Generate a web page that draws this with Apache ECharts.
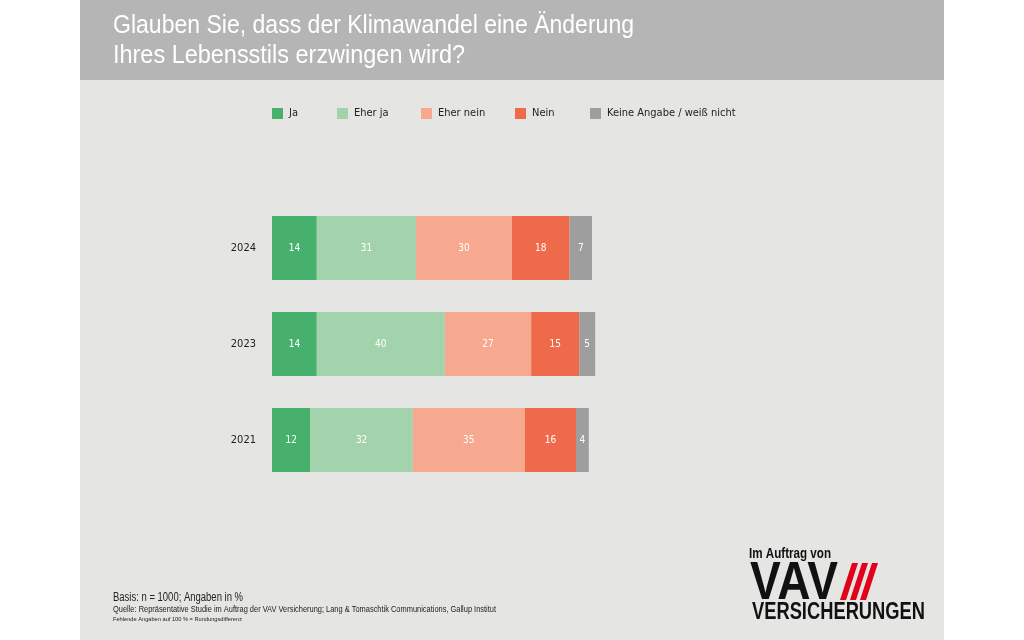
<!DOCTYPE html>
<html><head><meta charset="utf-8">
<script src="https://cdn.jsdelivr.net/npm/echarts@6/dist/echarts.min.js"></script>
<style>html,body{margin:0;padding:0;background:#fff}#c{width:1024px;height:640px}</style>
</head><body><div id="c"></div>
<script>
const categories = ['2024', '2023', '2021'];
const seriesNames = ['Ja', 'Eher ja', 'Eher nein', 'Nein', 'Keine Angabe / weiß nicht'];
const ja = [14, 14, 12];
const eherJa = [31, 40, 32];
const eherNein = [30, 27, 35];
const nein = [18, 15, 16];
const keineAngabe = [7, 5, 4];
const colors = ['#47b06d', '#a3d3ac', '#f6a98e', '#ef6a4a', '#9e9e9e'];
const legendLefts = [272, 337, 421, 515, 590];

const F = '"Liberation Sans",Arial,sans-serif';
const values = [ja, eherJa, eherNein, nein, keineAngabe];

const ctx = document.createElement('canvas').getContext('2d');
function fitText(text, size, bold, x, baseline, targetW, fill) {
  const font = (bold ? 'bold ' : '') + size + 'px ' + F;
  ctx.font = font;
  const w = ctx.measureText(text).width;
  return {type: 'text', x: x, y: baseline - 0.3 * size, scaleX: targetW / w, z: 10,
    style: {text: text, font: font, fill: fill, verticalAlign: 'middle', align: 'left'}};
}

const chart = echarts.init(document.getElementById('c'), null, {renderer: 'canvas'});
const series = seriesNames.map((n, i) => ({
  name: n, type: 'bar', stack: 'total', data: values[i], barWidth: 64,
  itemStyle: {color: colors[i]},
  label: {show: true, position: 'inside', color: '#fff', fontSize: 10, fontFamily: '"DejaVu Sans Condensed",sans-serif'},
  emphasis: {disabled: true}
}));
const legends = seriesNames.map((n, i) => ({
  data: [n], left: legendLefts[i], top: 108, padding: 0, itemWidth: 11, itemHeight: 11, icon: 'rect',
  itemGap: 0, textStyle: {fontSize: 11, color: '#222', fontFamily: '"DejaVu Sans Condensed",sans-serif', padding: [0, 0, 0, 1]},
  selectedMode: false
}));
const slash = x0 => ({type: 'polygon', z: 11, shape: {points: [[x0, 600], [x0 + 6, 600], [x0 + 18, 563], [x0 + 12, 563]]}, style: {fill: '#e2001a'}});
chart.setOption({
  backgroundColor: '#ffffff',
  animation: false,
  graphic: [
    {type: 'rect', z: -10, shape: {x: 80, y: 0, width: 864, height: 80}, style: {fill: '#b5b5b5'}},
    {type: 'rect', z: -10, shape: {x: 80, y: 80, width: 864, height: 560}, style: {fill: '#e5e5e3'}},
    fitText('Glauben Sie, dass der Klimawandel eine Änderung', 25, false, 113, 34, 521, '#fff'),
    fitText('Ihres Lebensstils erzwingen wird?', 25, false, 113, 64, 352, '#fff'),
    fitText('Basis: n = 1000; Angaben in %', 12, false, 113, 601, 130, '#222'),
    fitText('Quelle: Repräsentative Studie im Auftrag der VAV Versicherung; Lang & Tomaschtik Communications, Gallup Institut', 9, false, 113, 612, 383, '#222'),
    fitText('Fehlende Angaben auf 100 % = Rundungsdifferenz', 6, false, 113, 621, 129, '#222'),
    fitText('Im Auftrag von', 14, true, 749, 558, 82, '#111'),
    fitText('VAV', 53, true, 750, 600, 88, '#111'),
    slash(840), slash(850), slash(860),
    fitText('VERSICHERUNGEN', 24, true, 752, 620, 173, '#111')
  ],
  legend: legends,
  grid: {left: 272, top: 200, width: 640, height: 288},
  xAxis: {type: 'value', min: 0, max: 200, show: false},
  yAxis: {type: 'category', data: categories, inverse: true,
    axisLine: {show: false}, axisTick: {show: false},
    axisLabel: {margin: 16, fontSize: 11, color: '#222', fontFamily: '"DejaVu Sans Condensed",sans-serif'}},
  series: series
});
</script></body></html>
